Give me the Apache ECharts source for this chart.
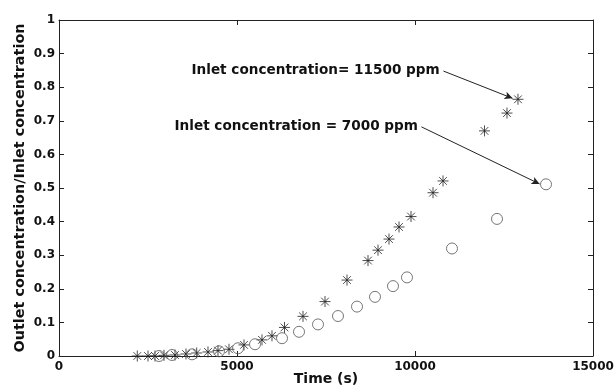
<!DOCTYPE html>
<html>
<head>
<meta charset="utf-8">
<script src="https://cdn.jsdelivr.net/npm/echarts@6/dist/echarts.min.js"></script>
<style>
  html, body { margin: 0; padding: 0; background: #fff; }
  #chart { width: 615px; height: 388px; }
</style>
</head>
<body>
<div id="chart"></div>
<script>
// inlet concentration 11500 ppm (stars)
const timeHigh = [2199, 2500, 2697, 2949, 3258, 3567, 3868, 4185, 4466, 4775, 5197, 5702, 5983, 6334, 6854,
  7472, 8090, 8680, 8961, 9270, 9551, 9888, 10506, 10787, 11952, 12584, 12893];
const ratioHigh = [0, 0, 0, 0.002, 0.003, 0.006, 0.009, 0.012, 0.016, 0.02, 0.033, 0.048, 0.06, 0.085, 0.118,
  0.162, 0.226, 0.284, 0.315, 0.348, 0.384, 0.415, 0.486, 0.521, 0.67, 0.723, 0.764];

// inlet concentration 7000 ppm (circles)
const timeLow = [2809, 3174, 3736, 4494, 5028, 5506, 6264, 6742, 7275, 7837, 8371, 8876, 9382, 9775, 11039, 12303, 13680];
const ratioLow = [0, 0.003, 0.005, 0.014, 0.023, 0.035, 0.053, 0.072, 0.094, 0.119, 0.147, 0.176, 0.208, 0.234, 0.32, 0.408, 0.511];

const labelHigh = 'Inlet concentration= 11500 ppm';
const labelLow = 'Inlet concentration = 7000 ppm';

const FONT = 'DejaVu Sans';
const starPath = 'path://M5,0L5,10M0,5L10,5M1.5,1.5L8.5,8.5M8.5,1.5L1.5,8.5';

const chart = echarts.init(document.getElementById('chart'));

const axisCommon = {
  type: 'value',
  axisLine: { show: true, onZero: false, lineStyle: { color: '#222', width: 1 } },
  axisTick: { show: true, inside: true, length: 5, lineStyle: { color: '#222' } },
  splitLine: { show: false }
};

const option = {
  animation: false,
  backgroundColor: '#fff',
  grid: { left: 59, right: 22, top: 20, bottom: 32, containLabel: false, outerBoundsMode: 'none' },
  xAxis: [
    Object.assign({}, axisCommon, {
      min: 0, max: 15000, interval: 5000,
      name: 'Time (s)', nameLocation: 'middle', nameGap: 16, nameMoveOverlap: false,
      nameTextStyle: { fontFamily: FONT, fontWeight: 'bold', fontSize: 14, color: '#111' },
      axisLabel: { margin: 5, fontFamily: FONT, fontWeight: 'bold', fontSize: 12, color: '#111',
        formatter: v => String(v) }
    }),
    Object.assign({}, axisCommon, {
      position: 'top', min: 0, max: 15000, interval: 5000,
      axisLabel: { show: false }
    })
  ],
  yAxis: [
    Object.assign({}, axisCommon, {
      min: 0, max: 1, interval: 0.1,
      name: 'Outlet concentration/Inlet concentration', nameLocation: 'middle', nameGap: 32, nameMoveOverlap: false,
      nameTextStyle: { fontFamily: FONT, fontWeight: 'bold', fontSize: 14.4, color: '#111' },
      axisLabel: { margin: 4, fontFamily: FONT, fontWeight: 'bold', fontSize: 12, color: '#111',
        formatter: v => String(+v.toFixed(1)) }
    }),
    Object.assign({}, axisCommon, {
      position: 'right', min: 0, max: 1, interval: 0.1,
      axisLabel: { show: false }
    })
  ],
  series: [
    {
      name: '11500 ppm',
      type: 'scatter',
      symbol: starPath,
      symbolSize: 11,
      itemStyle: { color: 'transparent', borderColor: '#222', borderWidth: 1 },
      data: timeHigh.map((t, i) => [t, ratioHigh[i]]),
      markLine: {
        silent: true,
        symbol: ['none', 'arrow'],
        symbolSize: [6, 8],
        lineStyle: { color: '#222', width: 1, type: 'solid' },
        label: { show: false },
        data: [[{ coord: [10800, 0.848] }, { coord: [12740, 0.767] }]]
      },
      markPoint: {
        silent: true,
        symbol: 'circle', symbolSize: 0,
        label: {
          show: true, position: 'left', distance: 2,
          fontFamily: FONT, fontWeight: 'bold', fontSize: 13.6, color: '#111',
          formatter: labelHigh
        },
        data: [{ coord: [10750, 0.851] }]
      }
    },
    {
      name: '7000 ppm',
      type: 'scatter',
      symbol: 'circle',
      symbolSize: 11,
      itemStyle: { color: 'transparent', borderColor: '#555', borderWidth: 1 },
      data: timeLow.map((t, i) => [t, ratioLow[i]]),
      markLine: {
        silent: true,
        symbol: ['none', 'arrow'],
        symbolSize: [6, 8],
        lineStyle: { color: '#222', width: 1, type: 'solid' },
        label: { show: false },
        data: [[{ coord: [10180, 0.682] }, { coord: [13500, 0.512] }]]
      },
      markPoint: {
        silent: true,
        symbol: 'circle', symbolSize: 0,
        label: {
          show: true, position: 'left', distance: 2,
          fontFamily: FONT, fontWeight: 'bold', fontSize: 13.6, color: '#111',
          formatter: labelLow
        },
        data: [{ coord: [10140, 0.682] }]
      }
    }
  ]
};

chart.setOption(option);
</script>
</body>
</html>
